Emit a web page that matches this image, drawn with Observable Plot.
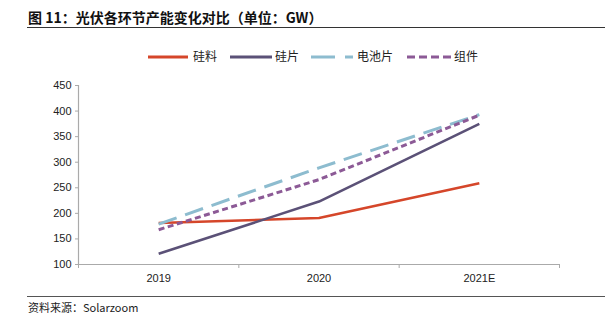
<!DOCTYPE html>
<html><head><meta charset="utf-8">
<script src="https://cdn.jsdelivr.net/npm/d3@7"></script>
<script src="https://cdn.jsdelivr.net/npm/@observablehq/plot@0.6"></script>
<style>
body{margin:0;background:#fff;font-family:"Liberation Sans",Arial,sans-serif;}
#wrap{position:relative;width:610px;height:326px;overflow:hidden;}
#title{position:absolute;left:28px;top:7px;font:bold 14px "Noto Sans CJK SC",sans-serif;color:#111;white-space:nowrap;}
.rule{position:absolute;left:27px;width:578px;height:0;border-top:1.5px solid #333;}
#legend{position:absolute;left:0;top:45px;}
#chart{position:absolute;left:0;top:75px;}
#source{position:absolute;left:28px;top:299px;font:11px "Noto Sans CJK SC",sans-serif;color:#222;white-space:nowrap;}
</style></head>
<body><div id="wrap">
<div id="title">图 11：光伏各环节产能变化对比（单位：GW）</div>
<div class="rule" style="top:27px"></div>
<div id="legend"></div>
<div id="chart"></div>
<div class="rule" style="top:296px;border-top:1px solid #555"></div>
<div id="source">资料来源：Solarzoom</div>
</div>
<script>
const years = ["2019", "2020", "2021E"];
const seriesNames = ["硅料", "硅片", "电池片", "组件"];
const siliconMaterial = [181, 191, 259];
const wafer = [121, 223, 375];
const cell = [179, 289, 393];
const module_ = [168, 266, 392];
const yTicks = [100, 150, 200, 250, 300, 350, 400, 450];

const colors = ["#D5462A", "#5B5177", "#8DBCCF", "#8C5A96"];
const dashes = [null, null, "19,9", "6,3.5"];
const allValues = [siliconMaterial, wafer, cell, module_];

const data = [];
seriesNames.forEach((s, si) => years.forEach((y, i) => data.push({series: s, xi: i, year: y, value: allValues[si][i]})));

const marks = [
  Plot.axisY({ticks: yTicks, tickSize: 3, stroke: "#aaa", tickPadding: 4, fontSize: 11, color: "#222", label: null}),
  Plot.axisX({ticks: [0, 1, 2], tickFormat: i => years[i], tickSize: 0, tickPadding: 10, fontSize: 11, label: null}),
  Plot.axisX({ticks: [-0.5, 0.5, 1.5, 2.5], tickFormat: () => "", tickSize: 4, stroke: "#aaa", label: null}),
  Plot.ruleX([-0.5], {stroke: "#aaa", strokeWidth: 1.2}),
  Plot.ruleY([100], {stroke: "#aaa", strokeWidth: 1.2}),
];
seriesNames.forEach((s, si) => {
  marks.push(Plot.line(data.filter(d => d.series === s), {
    x: "xi", y: "value", stroke: colors[si], strokeWidth: si >= 2 ? 3 : 2.6,
    strokeDasharray: dashes[si] || undefined, strokeLinecap: "butt", strokeLinejoin: "round"
  }));
});

const chart = Plot.plot({
  width: 610, height: 209,
  marginLeft: 78, marginRight: 51, marginTop: 10, marginBottom: 20,
  style: {fontFamily: "'Liberation Sans', Arial, sans-serif", color: "#222", background: "transparent"},
  x: {type: "linear", domain: [-0.5, 2.5], axis: null, label: null},
  y: {domain: [100, 450], axis: null, label: null},
  marks
});
document.getElementById("chart").appendChild(chart);

// legend
const ns = "http://www.w3.org/2000/svg";
const lg = document.createElementNS(ns, "svg");
lg.setAttribute("width", 610); lg.setAttribute("height", 24);
const items = [
  {x0: 148, x1: 188, tx: 193},
  {x0: 230, x1: 272, tx: 275},
  {x0: 311, x1: 353, tx: 357},
  {x0: 407, x1: 451, tx: 454}
];
items.forEach((it, i) => {
  const l = document.createElementNS(ns, "line");
  l.setAttribute("x1", it.x0); l.setAttribute("x2", it.x1);
  l.setAttribute("y1", 12); l.setAttribute("y2", 12);
  l.setAttribute("stroke", colors[i]); l.setAttribute("stroke-width", 3);
  if (dashes[i]) l.setAttribute("stroke-dasharray", i === 2 ? "24,10" : "8,4");
  lg.appendChild(l);
  const t = document.createElementNS(ns, "text");
  t.setAttribute("x", it.tx); t.setAttribute("y", 16);
  t.setAttribute("font-size", 12); t.setAttribute("fill", "#222");
  t.setAttribute("font-family", "'Noto Sans CJK SC', sans-serif");
  t.textContent = seriesNames[i];
  lg.appendChild(t);
});
document.getElementById("legend").appendChild(lg);
</script>
</body></html>
